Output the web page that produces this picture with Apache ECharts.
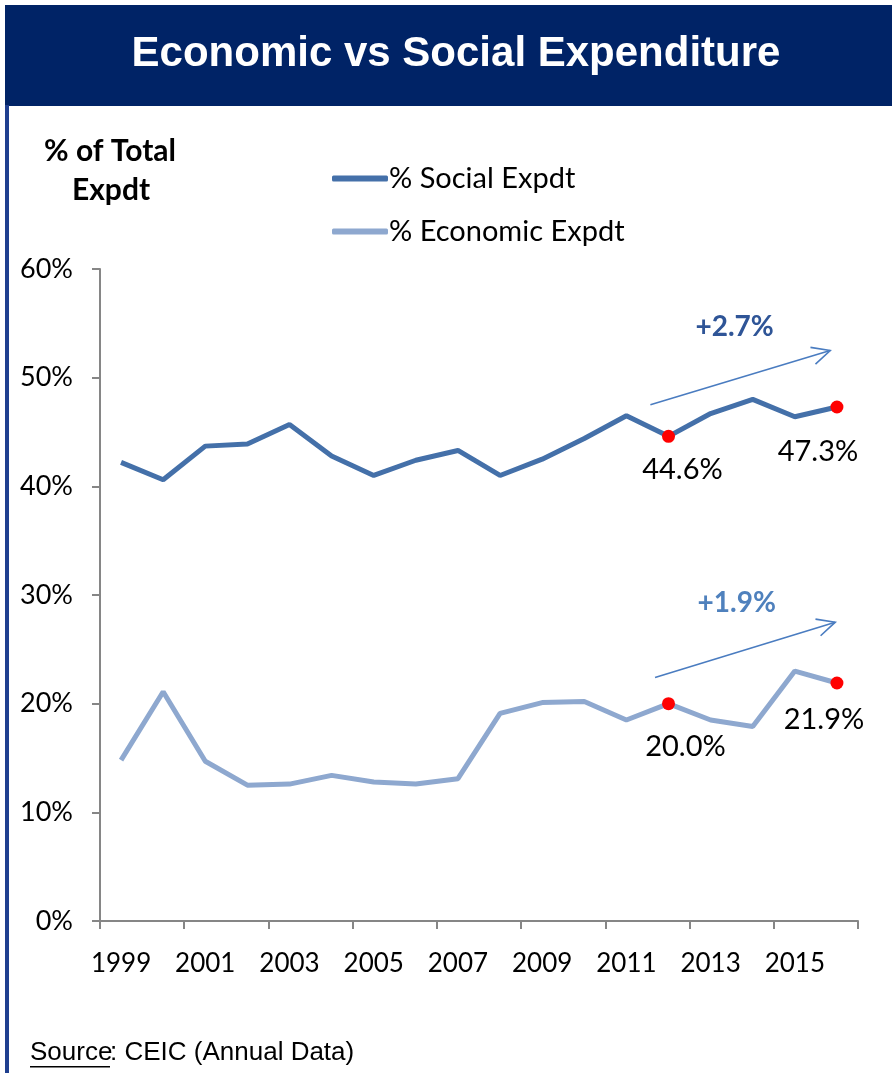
<!DOCTYPE html>
<html><head><meta charset="utf-8">
<script src="https://cdn.jsdelivr.net/npm/echarts@6/dist/echarts.min.js"></script>
<style>html,body{margin:0;padding:0;background:#fff}#c{width:892px;height:1073px}</style>
</head><body><div id="c"></div>
<script>
const years = ['1999','2000','2001','2002','2003','2004','2005','2006','2007','2008','2009','2010','2011','2012','2013','2014','2015','2016'];
const socialExp = [42.2,40.6,43.7,43.9,45.7,42.8,41.0,42.4,43.3,41.0,42.5,44.4,46.5,44.6,46.7,48.0,46.4,47.3];
const economicExp = [14.8,21.1,14.7,12.5,12.6,13.4,12.8,12.6,13.1,19.1,20.1,20.2,18.5,20.0,18.5,17.9,23.0,21.9];
const highlightIdx = [13, 17];
const yTicks = [0,10,20,30,40,50,60];
// annotations: arrows [x index, y] start -> end, and change labels
const socialArrow = [[12.57,47.5],[16.84,52.5]];
const economicArrow = [[12.68,22.4],[16.96,27.5]];
const socialChange = {text:'+2.7%', at:[14.57,54.7]};
const economicChange = {text:'+1.9%', at:[14.62,29.3]};

const CAL = 'Lato, "Open Sans", sans-serif';
const ARIAL = '"Liberation Sans", Arial, sans-serif';
const chart = echarts.init(document.getElementById('c'));

function buildData(vals, offsets){
  return vals.map((v,i)=>{
    const k = highlightIdx.indexOf(i);
    if (k < 0) return {value:v, symbol:'none'};
    return {value:v, symbol:'circle', symbolSize:13,
      itemStyle:{color:'#ff0000'},
      label:{show:true, position:'bottom', distance:12, offset:offsets[k],
        formatter: p => p.value.toFixed(1)+'%', fontFamily:CAL, fontSize:29, color:'#000'}};
  });
}

chart.setOption({
  animation:false,
  grid:{left:100, right:34, top:269, bottom:152},
  legend:{
    left:327, top:159, orient:'vertical', itemGap:24, itemWidth:56, itemHeight:6,
    icon:'roundRect',
    textStyle:{fontFamily:CAL, fontSize:29, color:'#000', padding:[0,0,0,-4]},
    data:['% Social Expdt','% Economic Expdt']
  },
  xAxis:{
    type:'category', data:years, boundaryGap:true,
    axisLine:{lineStyle:{color:'#868686', width:2}},
    axisTick:{show:true, interval:1, length:8, lineStyle:{color:'#868686', width:2}},
    axisLabel:{interval:1, fontFamily:CAL, fontSize:26, color:'#000', margin:30}
  },
  yAxis:{
    type:'value', min:0, max:60, interval:10,
    axisLine:{show:true, lineStyle:{color:'#868686', width:2}},
    axisTick:{show:true, length:8, lineStyle:{color:'#868686', width:2}},
    splitLine:{show:false},
    axisLabel:{fontFamily:CAL, fontSize:27, color:'#000', margin:27, formatter: v => yTicks.includes(v) ? v+'%' : ''}
  },
  series:[
    {name:'% Social Expdt', type:'line', data:buildData(socialExp, [[14,0],[-19,12]]),
      lineStyle:{color:'#4470a9', width:5}, itemStyle:{color:'#4470a9'}, symbol:'none', z:3},
    {name:'% Economic Expdt', type:'line', data:buildData(economicExp, [[17,10],[-13,4]]),
      lineStyle:{color:'#8ea8cf', width:5}, itemStyle:{color:'#8ea8cf'}, symbol:'none', z:2}
  ]
});

function px(p){
  const i0 = Math.floor(p[0]), f = p[0]-i0;
  const a = chart.convertToPixel({gridIndex:0},[i0,p[1]]);
  const b = chart.convertToPixel({gridIndex:0},[i0+1,p[1]]);
  return [a[0]+(b[0]-a[0])*f, a[1]];
}
function arrow(seg, color){
  const s = px(seg[0]), e = px(seg[1]);
  const ang = Math.atan2(e[1]-s[1], e[0]-s[0]);
  const L = 20, w = 0.45;
  const h1 = [e[0]-L*Math.cos(ang-w), e[1]-L*Math.sin(ang-w)];
  const h2 = [e[0]-L*Math.cos(ang+w), e[1]-L*Math.sin(ang+w)];
  return [
    {type:'line', shape:{x1:s[0],y1:s[1],x2:e[0],y2:e[1]}, style:{stroke:color, lineWidth:1.6}, z:10},
    {type:'polyline', shape:{points:[h1,e,h2]}, style:{stroke:color, lineWidth:1.6, fill:null}, z:10}
  ];
}
function changeText(c, color){
  const p = px(c.at);
  return {type:'text', x:p[0], y:p[1], style:{text:c.text, fill:color, font:'bold 28px '+CAL, textAlign:'center', textVerticalAlign:'middle'}, z:10};
}

chart.setOption({graphic:[
  {type:'rect', shape:{x:5,y:5,width:887,height:101}, style:{fill:'#002366'}},
  {type:'rect', shape:{x:5,y:105,width:4,height:968}, style:{fill:'#1f3f8f'}},
  {type:'text', x:456, y:54, style:{text:'Economic vs Social Expenditure', fill:'#fff', font:'bold 42px '+ARIAL, textAlign:'center', textVerticalAlign:'middle'}},
  {type:'text', x:110, y:151, style:{text:'% of Total', fill:'#000', font:'bold 30px '+CAL, textAlign:'center', textVerticalAlign:'middle'}},
  {type:'text', x:111, y:190, style:{text:'Expdt', fill:'#000', font:'bold 30px '+CAL, textAlign:'center', textVerticalAlign:'middle'}},
  {type:'text', x:30, y:1053, style:{text:'Source', fill:'#000', font:'26px '+ARIAL, textAlign:'left', textVerticalAlign:'middle'}},
  {type:'rect', shape:{x:30,y:1066,width:80,height:1.5}, style:{fill:'#000'}},
  {type:'text', x:110, y:1053, style:{text:': CEIC (Annual Data)', fill:'#000', font:'26px '+ARIAL, textAlign:'left', textVerticalAlign:'middle'}},
  ...arrow(socialArrow, '#4a7cc0'),
  ...arrow(economicArrow, '#4a7cc0'),
  changeText(socialChange, '#2f5597'),
  changeText(economicChange, '#4f81bd')
]});
</script></body></html>
